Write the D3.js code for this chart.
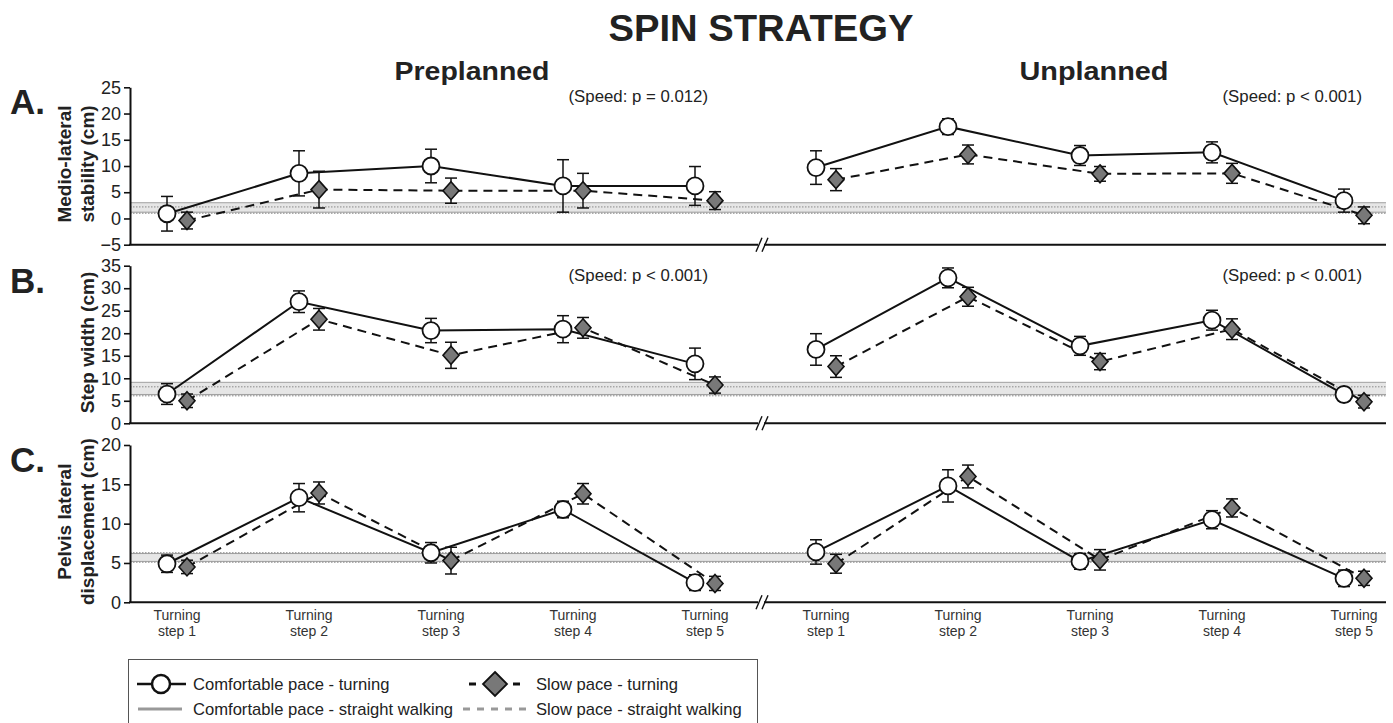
<!DOCTYPE html>
<html>
<head>
<meta charset="utf-8">
<script src="https://cdnjs.cloudflare.com/ajax/libs/d3/7.8.5/d3.min.js"></script>
<style>
  html, body { margin: 0; padding: 0; background: #fff; }
  svg { display: block; font-family: "Liberation Sans", Arial, sans-serif; }
</style>
</head>
<body>
<svg id="chart" width="1393" height="723"></svg>
<script>
// ---- data -------------------------------------------------------------
const steps = [1, 2, 3, 4, 5];
const stepLabels = ["Turning|step 1", "Turning|step 2", "Turning|step 3", "Turning|step 4", "Turning|step 5"];
const conditions = ["Preplanned", "Unplanned"];

// Medio-lateral stability (cm)
const mlComfortPre    = [0.9, 8.6, 10.0, 6.2, 6.2];
const mlComfortPreErr = [3.3, 4.3, 3.2, 5.0, 3.7];
const mlSlowPre       = [-0.4, 5.5, 5.3, 5.3, 3.4];
const mlSlowPreErr    = [1.6, 3.5, 2.4, 3.3, 1.7];
const mlComfortUn     = [9.7, 17.5, 12.0, 12.6, 3.4];
const mlComfortUnErr  = [3.2, 1.5, 1.9, 2.0, 2.2];
const mlSlowUn        = [7.4, 12.2, 8.5, 8.6, 0.6];
const mlSlowUnErr     = [2.1, 1.8, 1.4, 1.9, 1.6];

// Step width (cm)
const swComfortPre    = [6.5, 27.0, 20.6, 20.9, 13.2];
const swComfortPreErr = [2.3, 2.4, 2.7, 3.0, 3.5];
const swSlowPre       = [5.0, 23.1, 15.1, 21.2, 8.5];
const swSlowPreErr    = [1.5, 2.4, 2.9, 2.3, 1.8];
const swComfortUn     = [16.4, 32.3, 17.2, 22.9, 6.4];
const swComfortUnErr  = [3.5, 2.2, 2.1, 2.2, 1.5];
const swSlowUn        = [12.6, 28.1, 13.7, 20.9, 4.8];
const swSlowUnErr     = [2.4, 2.1, 1.8, 2.3, 1.4];

// Pelvis lateral displacement (cm)
const plComfortPre    = [4.9, 13.3, 6.3, 11.8, 2.5];
const plComfortPreErr = [1.1, 1.8, 1.3, 1.05, 1.0];
const plSlowPre       = [4.5, 13.9, 5.3, 13.8, 2.4];
const plSlowPreErr    = [0.85, 1.4, 1.7, 1.3, 0.9];
const plComfortUn     = [6.4, 14.8, 5.2, 10.5, 3.05];
const plComfortUnErr  = [1.55, 2.05, 1.0, 1.15, 1.05];
const plSlowUn        = [4.9, 16.0, 5.4, 12.0, 3.05];
const plSlowUnErr     = [1.2, 1.45, 1.3, 1.15, 0.9];

// Straight-walking reference ranges (low, high) per measure
const straightComfortBand = [[1.2, 3.0], [6.4, 9.1], [5.2, 6.2]];
const straightSlowBand    = [[1.0, 2.2], [6.1, 8.1], [5.1, 6.3]];

// Axis settings per measure
const panelLetters = ["A.", "B.", "C."];
const yTitles = [["Medio-lateral", "stability (cm)"], ["Step width (cm)"], ["Pelvis lateral", "displacement (cm)"]];
const yDomains = [[-5, 25], [0, 35], [0, 20]];
const yTicks = [[-5, 0, 5, 10, 15, 20, 25], [0, 5, 10, 15, 20, 25, 30, 35], [0, 5, 10, 15, 20]];
const speedNotes = [["(Speed: p = 0.012)", "(Speed: p < 0.001)"], ["(Speed: p < 0.001)", "(Speed: p < 0.001)"], ["", ""]];

// ---- layout ---------------------------------------------------------
const svg = d3.select("#chart");
const font = "'Liberation Sans', Arial, sans-serif";
const panelTops = [87.3, 265.7, 445];
const panelBottoms = [244.7, 423.3, 602.3];
const axisX = 130;
const sideAxisExtent = [[axisX, 758], [764, 1386]];
const sideRanges = [[177, 705], [826, 1354]];
const markerOffset = 10;

const measures = [
  [[mlComfortPre, mlComfortPreErr, mlSlowPre, mlSlowPreErr], [mlComfortUn, mlComfortUnErr, mlSlowUn, mlSlowUnErr]],
  [[swComfortPre, swComfortPreErr, swSlowPre, swSlowPreErr], [swComfortUn, swComfortUnErr, swSlowUn, swSlowUnErr]],
  [[plComfortPre, plComfortPreErr, plSlowPre, plSlowPreErr], [plComfortUn, plComfortUnErr, plSlowUn, plSlowUnErr]]
];

// Titles
svg.append("text").attr("x", 761).attr("y", 41).attr("text-anchor", "middle")
  .attr("font-size", 37).attr("font-weight", "bold").attr("fill", "#222")
  .attr("textLength", 305).attr("lengthAdjust", "spacingAndGlyphs").text("SPIN STRATEGY");
const conditionCenters = [472, 1094];
const conditionWidths = [155, 149];
conditions.forEach((c, i) => {
  svg.append("text").attr("x", conditionCenters[i]).attr("y", 80).attr("text-anchor", "middle")
    .attr("font-size", 26).attr("font-weight", "bold").attr("fill", "#222")
    .attr("textLength", conditionWidths[i]).attr("lengthAdjust", "spacingAndGlyphs").text(c);
});

const xScales = sideRanges.map(r => d3.scalePoint().domain(steps).range(r));

measures.forEach((sides, m) => {
  const y = d3.scaleLinear().domain(yDomains[m]).range([panelBottoms[m], panelTops[m]]);
  const g = svg.append("g");

  // panel letter
  g.append("text").attr("x", 10).attr("y", panelTops[m] + 27)
    .attr("font-size", 35).attr("font-weight", "bold").attr("fill", "#222").text(panelLetters[m]);

  // y-axis title
  const midY = (panelTops[m] + panelBottoms[m]) / 2;
  const lines = yTitles[m];
  const lineXs = lines.length === 2 ? [64, 87] : [87];
  lines.forEach((t, i) => {
    g.append("text")
      .attr("transform", `translate(${lineXs[i] + 7},${midY - 2}) rotate(-90)`)
      .attr("text-anchor", "middle").attr("font-size", 19).attr("font-weight", "bold")
      .attr("fill", "#222").text(t);
  });

  // straight-walking bands across both sides
  const bandLo = Math.min(straightComfortBand[m][0], straightSlowBand[m][0]);
  const bandHi = Math.max(straightComfortBand[m][1], straightSlowBand[m][1]);
  g.append("rect").attr("x", axisX).attr("width", 1386 - axisX)
    .attr("y", y(bandHi)).attr("height", y(bandLo) - y(bandHi))
    .attr("fill", "#e6e6e6");
  straightComfortBand[m].forEach(v => {
    g.append("line").attr("x1", axisX).attr("x2", 1386).attr("y1", y(v)).attr("y2", y(v))
      .attr("stroke", "#a0a0a0").attr("stroke-width", 1);
  });
  straightSlowBand[m].forEach(v => {
    g.append("line").attr("x1", axisX).attr("x2", 1386).attr("y1", y(v)).attr("y2", y(v))
      .attr("stroke", "#8a8a8a").attr("stroke-width", 1).attr("stroke-dasharray", "1.5,1.5");
  });

  // y axis
  const yAxis = d3.axisLeft(y).tickValues(yTicks[m]).tickSize(6).tickSizeOuter(0).tickPadding(3);
  const ya = g.append("g").attr("transform", `translate(${axisX},0)`).call(yAxis);
  ya.select(".domain").attr("stroke", "#111").attr("stroke-width", 2);
  ya.selectAll(".tick line").attr("stroke", "#111").attr("stroke-width", 1.6);
  ya.selectAll(".tick text").attr("font-size", 18).attr("font-family", font).attr("fill", "#222");

  // x axis lines with break marks
  const base = panelBottoms[m];
  sideAxisExtent.forEach(([a, b]) => {
    g.append("line").attr("x1", a - (a === axisX ? 1 : 0)).attr("x2", b).attr("y1", base).attr("y2", base)
      .attr("stroke", "#111").attr("stroke-width", 2);
  });
  [756, 762].forEach(bx => {
    g.append("line").attr("x1", bx).attr("y1", base + 7).attr("x2", bx + 6).attr("y2", base - 7)
      .attr("stroke", "#111").attr("stroke-width", 1.4);
  });

  // category labels under the last panel
  if (m === 2) {
    xScales.forEach(xs => {
      steps.forEach((s, i) => {
        const parts = stepLabels[i].split("|");
        const t = g.append("text").attr("x", xs(s)).attr("y", base + 18)
          .attr("text-anchor", "middle").attr("font-size", 14).attr("fill", "#333");
        t.append("tspan").attr("x", xs(s)).attr("dy", 0).text(parts[0]);
        t.append("tspan").attr("x", xs(s)).attr("dy", 16).text(parts[1]);
      });
    });
  }

  // speed notes
  const noteXs = [708, 1362];
  speedNotes[m].forEach((txt, k) => {
    if (!txt) return;
    g.append("text").attr("x", noteXs[k]).attr("y", panelTops[m] + 15)
      .attr("text-anchor", "end").attr("font-size", 16.8).attr("fill", "#222").text(txt);
  });

  // series per side
  sides.forEach((series, k) => {
    const xs = xScales[k];
    const [cMean, cErr, sMean, sErr] = series;
    const cx = s => xs(s) - markerOffset;
    const sx = s => xs(s) + markerOffset;
    const line = (xf, vals) => d3.line().x((d, i) => xf(steps[i])).y(d => y(d))(vals);

    g.append("path").attr("d", line(sx, sMean)).attr("fill", "none")
      .attr("stroke", "#111").attr("stroke-width", 2).attr("stroke-dasharray", "9,6");
    g.append("path").attr("d", line(cx, cMean)).attr("fill", "none")
      .attr("stroke", "#111").attr("stroke-width", 2);

    const errBars = (xf, mean, err) => {
      steps.forEach((s, i) => {
        const x0 = xf(s), top = y(mean[i] + err[i]), bot = y(mean[i] - err[i]);
        g.append("line").attr("x1", x0).attr("x2", x0).attr("y1", top).attr("y2", bot)
          .attr("stroke", "#111").attr("stroke-width", 1.5);
        [top, bot].forEach(yy => g.append("line").attr("x1", x0 - 6).attr("x2", x0 + 6)
          .attr("y1", yy).attr("y2", yy).attr("stroke", "#111").attr("stroke-width", 1.5));
      });
    };
    errBars(sx, sMean, sErr);
    errBars(cx, cMean, cErr);

    // slow pace diamonds
    steps.forEach((s, i) => {
      const x0 = sx(s), y0 = y(sMean[i]);
      g.append("path").attr("d", `M${x0},${y0 - 9}L${x0 + 8},${y0}L${x0},${y0 + 9}L${x0 - 8},${y0}Z`)
        .attr("fill", "#787878").attr("stroke", "#111").attr("stroke-width", 1.6);
    });
    // comfortable pace circles
    steps.forEach((s, i) => {
      g.append("circle").attr("cx", cx(s)).attr("cy", y(cMean[i])).attr("r", 8.5)
        .attr("fill", "#fff").attr("stroke", "#111").attr("stroke-width", 1.8);
    });
  });
});

// ---- legend ---------------------------------------------------------
const lg = svg.append("g");
lg.append("rect").attr("x", 128.5).attr("y", 659.5).attr("width", 629).attr("height", 70)
  .attr("fill", "#fff").attr("stroke", "#555").attr("stroke-width", 1);
const row1 = 684, row2 = 709;
const legendFont = 16.6;
lg.append("line").attr("x1", 137).attr("x2", 186).attr("y1", row1).attr("y2", row1)
  .attr("stroke", "#111").attr("stroke-width", 2.5);
lg.append("circle").attr("cx", 161).attr("cy", row1).attr("r", 9)
  .attr("fill", "#fff").attr("stroke", "#111").attr("stroke-width", 2.5);
lg.append("text").attr("x", 193).attr("y", row1 + 6).attr("font-size", legendFont).attr("fill", "#222")
  .text("Comfortable pace - turning");
[[469, 476], [513, 520]].forEach(([a, b]) => lg.append("line").attr("x1", a).attr("x2", b)
  .attr("y1", row1).attr("y2", row1).attr("stroke", "#111").attr("stroke-width", 3));
lg.append("path").attr("d", `M495,${row1 - 12}L507,${row1}L495,${row1 + 12}L483,${row1}Z`)
  .attr("fill", "#787878").attr("stroke", "#111").attr("stroke-width", 1.8);
lg.append("text").attr("x", 536).attr("y", row1 + 6).attr("font-size", legendFont).attr("fill", "#222")
  .text("Slow pace - turning");
lg.append("line").attr("x1", 138).attr("x2", 182).attr("y1", row2).attr("y2", row2)
  .attr("stroke", "#999").attr("stroke-width", 3);
lg.append("text").attr("x", 193).attr("y", row2 + 6).attr("font-size", legendFont).attr("fill", "#222")
  .text("Comfortable pace - straight walking");
lg.append("line").attr("x1", 463).attr("x2", 530).attr("y1", row2).attr("y2", row2)
  .attr("stroke", "#999").attr("stroke-width", 3).attr("stroke-dasharray", "7,7");
lg.append("text").attr("x", 536).attr("y", row2 + 6).attr("font-size", legendFont).attr("fill", "#222")
  .text("Slow pace - straight walking");
</script>
</body>
</html>
